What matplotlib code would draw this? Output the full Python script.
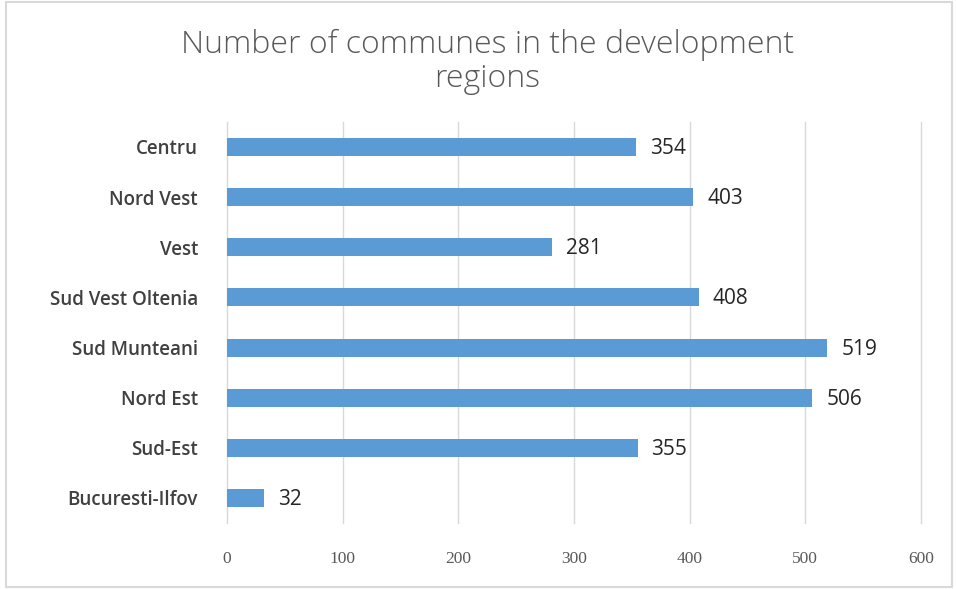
import numpy as np
import matplotlib.pyplot as plt
from matplotlib.patches import Rectangle

regions = ['Centru', 'Nord Vest', 'Vest', 'Sud Vest Oltenia', 'Sud Munteani',
           'Nord Est', 'Sud-Est', 'Bucuresti-Ilfov']
communes = [354, 403, 281, 408, 519, 506, 355, 32]
xticks = [0, 100, 200, 300, 400, 500, 600]

fig = plt.figure(figsize=(9.56, 5.89), dpi=100)
ax = fig.add_axes([0.2375, 0.112, 0.7259, 0.681])

y = np.arange(len(regions))
ax.barh(y, communes, height=0.36, color='#5b9bd5', zorder=3)
for yi, v in zip(y, communes):
    ax.text(v + 12, yi + 0.03, str(v), va='center', ha='left', fontsize=15,
            color='#262626', family='Open Sans')

ax.set_ylim(len(regions) - 0.5, -0.5)
ax.set_xlim(0, 600)
ax.set_yticks(y)
ax.set_yticklabels(regions, fontsize=13.5, color='#404040', family='Open Sans',
                   fontweight='semibold')
ax.set_xticks(xticks)
ax.set_xticklabels([str(t) for t in xticks], fontsize=12.5, color='#595959',
                   family='Liberation Serif')
ax.tick_params(axis='both', length=0)
ax.tick_params(axis='y', pad=21)
ax.tick_params(axis='x', pad=20)
ax.grid(axis='x', color='#d9d9d9', linewidth=1, zorder=0)
for gl in ax.get_xgridlines():
    gl.set_clip_on(False)
for s in ax.spines.values():
    s.set_visible(False)

fig.text(0.51, 0.895, 'Number of communes in the development\nregions', ha='center',
         va='center', fontsize=23, color='#595959', family='Open Sans',
         fontweight='light', linespacing=1.1)

fig.patches.append(Rectangle((0.006, 0.004), 0.99, 0.992, transform=fig.transFigure,
                             fill=False, edgecolor='#d9d9d9', linewidth=1.5))

fig.savefig('out.png', dpi=100)
